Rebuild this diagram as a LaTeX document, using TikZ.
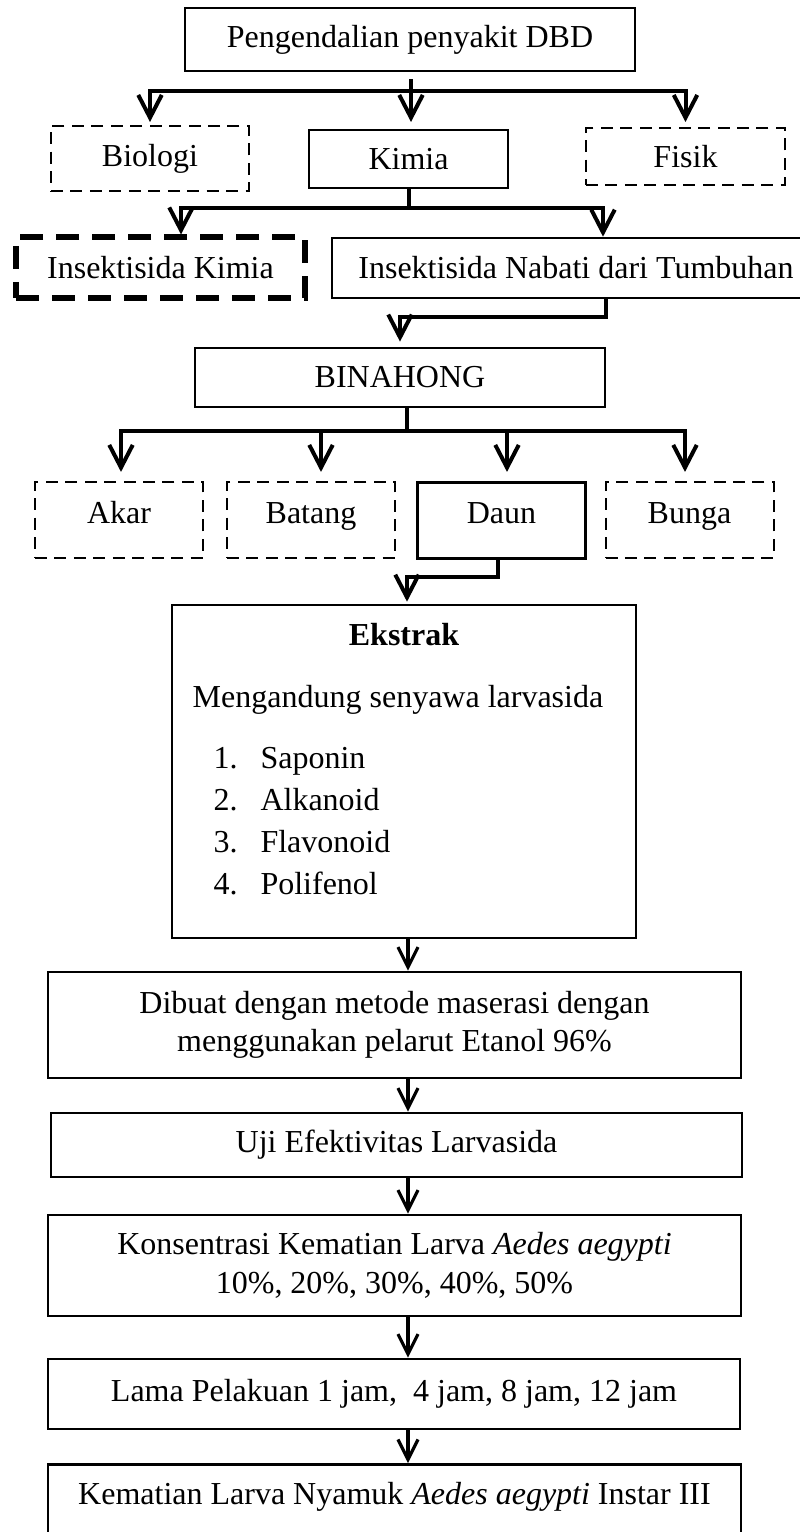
\documentclass[tikz,border=0pt,12pt]{standalone}
\usepackage{fontspec}
\setmainfont{Liberation Serif}
\usetikzlibrary{arrows.meta,calc}
\newcommand\pw[1]{#1*0.375pt}

\begin{document}
\begin{tikzpicture}[
        x=0.375pt, y=-0.375pt,
        box/.style={draw, line width=1pt, inner sep=0pt},
        dashbox/.style={draw, line width=0.75pt, dash pattern=on 4.5pt off 2.8pt, inner sep=0pt},
        thickdash/.style={draw, line width=1.9pt, dash pattern=on 8.6pt off 4.9pt, inner sep=0pt},
        rowbox/.style={anchor=north, minimum width=\pw{168}, text height=15.4pt, text depth=13.1pt},
        line/.style={line width=1.5pt},
        arr/.style={line width=1.5pt, -{Straight Barb[length=8.5pt, width=8.8pt]}},
        arrlo/.style={line width=1.2pt, -{Straight Barb[length=7.5pt, width=7.5pt]}}
    ]
	\useasboundingbox (0,0) rectangle (799,1532);
	\node[box, minimum width=\pw{450}, minimum height=\pw{63}] (top) at (410,39.5) {Pengendalian penyakit DBD};
	\node[dashbox, minimum width=\pw{198}, minimum height=\pw{65}] (biologi) at (150,158.5) {Biologi};
	\node[box, minimum width=\pw{199}, minimum height=\pw{58}] (kimia) at (408.5,159) {Kimia};
	\node[dashbox, minimum width=\pw{199}, minimum height=\pw{57}] (fisik) at (685.5,156.5) {Fisik};
	\node[thickdash, minimum width=\pw{289}, minimum height=\pw{61}] (inskimia) at (160.5,267.5) {Insektisida Kimia};
	\node[box, minimum width=\pw{488}, minimum height=\pw{60}] (nabati) at (576,268) {Insektisida Nabati dari Tumbuhan};
	\node[box, minimum width=\pw{410}, minimum height=\pw{59}] (binahong) at (400,377.5) {BINAHONG};
	\foreach \nd/\x/\s/\t in {akar/119/dashbox/Akar, batang/311/dashbox/Batang, daun/501.5/box/Daun, bunga/689.5/dashbox/Bunga}
		{
		  \node[\s, rowbox] (\nd) at (\x,481) {\t};
		};
	% ekstrak
	\node[box, minimum width=\pw{464}, minimum height=\pw{333}] (ekstrak) at (404,771.5) {};
	\node[font=\bfseries, anchor=base, inner sep=0pt] (judul) at (404,645) {Ekstrak};
	\node[anchor=base, inner sep=0pt] (kandungan) at (398,707) {Mengandung senyawa larvasida};
	\foreach \i/\zat in {1/Saponin, 2/Alkanoid, 3/Flavonoid, 4/Polifenol}
		{
		  \node[anchor=base west, inner sep=0pt] (no\i) at (213,{768+42.3*(\i-1)}) {\i.};
		  \node[anchor=base west, inner sep=0pt] (zat\i) at (260,{768+42.3*(\i-1)}) {\zat};
		};
	\node[box, align=center, minimum width=\pw{693}, minimum height=\pw{106}] (dibuat) at (394.5,1025) {Dibuat dengan metode maserasi dengan\\ menggunakan pelarut Etanol 96\%};
	\node[box, minimum width=\pw{691}, minimum height=\pw{64}] (uji) at (396.5,1145) {Uji Efektivitas Larvasida};
	\node[box, align=center, minimum width=\pw{693}, minimum height=\pw{101}] (konsentrasi) at (394.5,1265.5) {Konsentrasi Kematian Larva \textit{Aedes aegypti}\\ 10\%, 20\%, 30\%, 40\%, 50\%};
	\node[box, minimum width=\pw{692}, minimum height=\pw{70}] (lama) at (394,1394) {Lama Pelakuan 1 jam,\ \ 4 jam, 8 jam, 12 jam};
	\node[box, anchor=north, minimum width=\pw{693}, text height=15pt, text depth=16pt] (akhir) at (394.5,1463) {Kematian Larva Nyamuk \textit{Aedes aegypti} Instar III};
	% connectors
	\coordinate (tsplit) at (411,91);
	\coordinate (tipA) at (0,122);
	\draw[line, shorten <=2.6pt] (top.south -| tsplit) -- (tsplit);
	\draw[arr] (tsplit) -| (biologi.north |- tipA);
	\draw[arr] (tsplit) -| (fisik.north |- tipA);
	\draw[arr] (tsplit) -- (tsplit |- tipA);
	\coordinate (ksplit) at (0,208);
	\draw[line] (kimia.south) -- (kimia.south |- ksplit);
	\draw[arr] (kimia.south |- ksplit) -| ($(inskimia.north)+(20.5,0)$);
	\draw[arr] (kimia.south |- ksplit) -| ($(nabati.north)+(27,0)$);
	\draw[arr, shorten >=1.9pt] ($(nabati.south)+(30,0)$) |- ($(binahong.north)+(0,-30)$) -- (binahong.north);
	\coordinate (bsplit) at ($(binahong.south)+(7,23)$);
	\draw[line] ($(binahong.south)+(7,0)$) -- (bsplit);
	\draw[arr, shorten >=3.4pt] (bsplit) -| ($(akar.north)+(2,0)$);
	\draw[arr, shorten >=3.4pt] (bsplit) -| ($(bunga.north)+(-4.5,0)$);
	\foreach \nd/\dx in {batang/10, daun/5.5}
		{
		  \coordinate (t\nd) at ($(\nd.north)+(\dx,0)$);
		  \draw[arr, shorten >=3.4pt] (t\nd |- bsplit) -- (t\nd);
		};
	\draw[arr, shorten >=0.75pt] ($(daun.south)+(-3.5,0)$) |- ($(ekstrak.north)+(3,-27)$) -- ($(ekstrak.north)+(3,0)$);
	\coordinate (chainx) at (408,0);
	\foreach \a/\b in {ekstrak/dibuat, dibuat/uji, uji/konsentrasi, konsentrasi/lama, lama/akhir}
		{
		  \draw[arrlo] (\a.south -| chainx) -- (\b.north -| chainx);
		};
\end{tikzpicture}
\end{document}
